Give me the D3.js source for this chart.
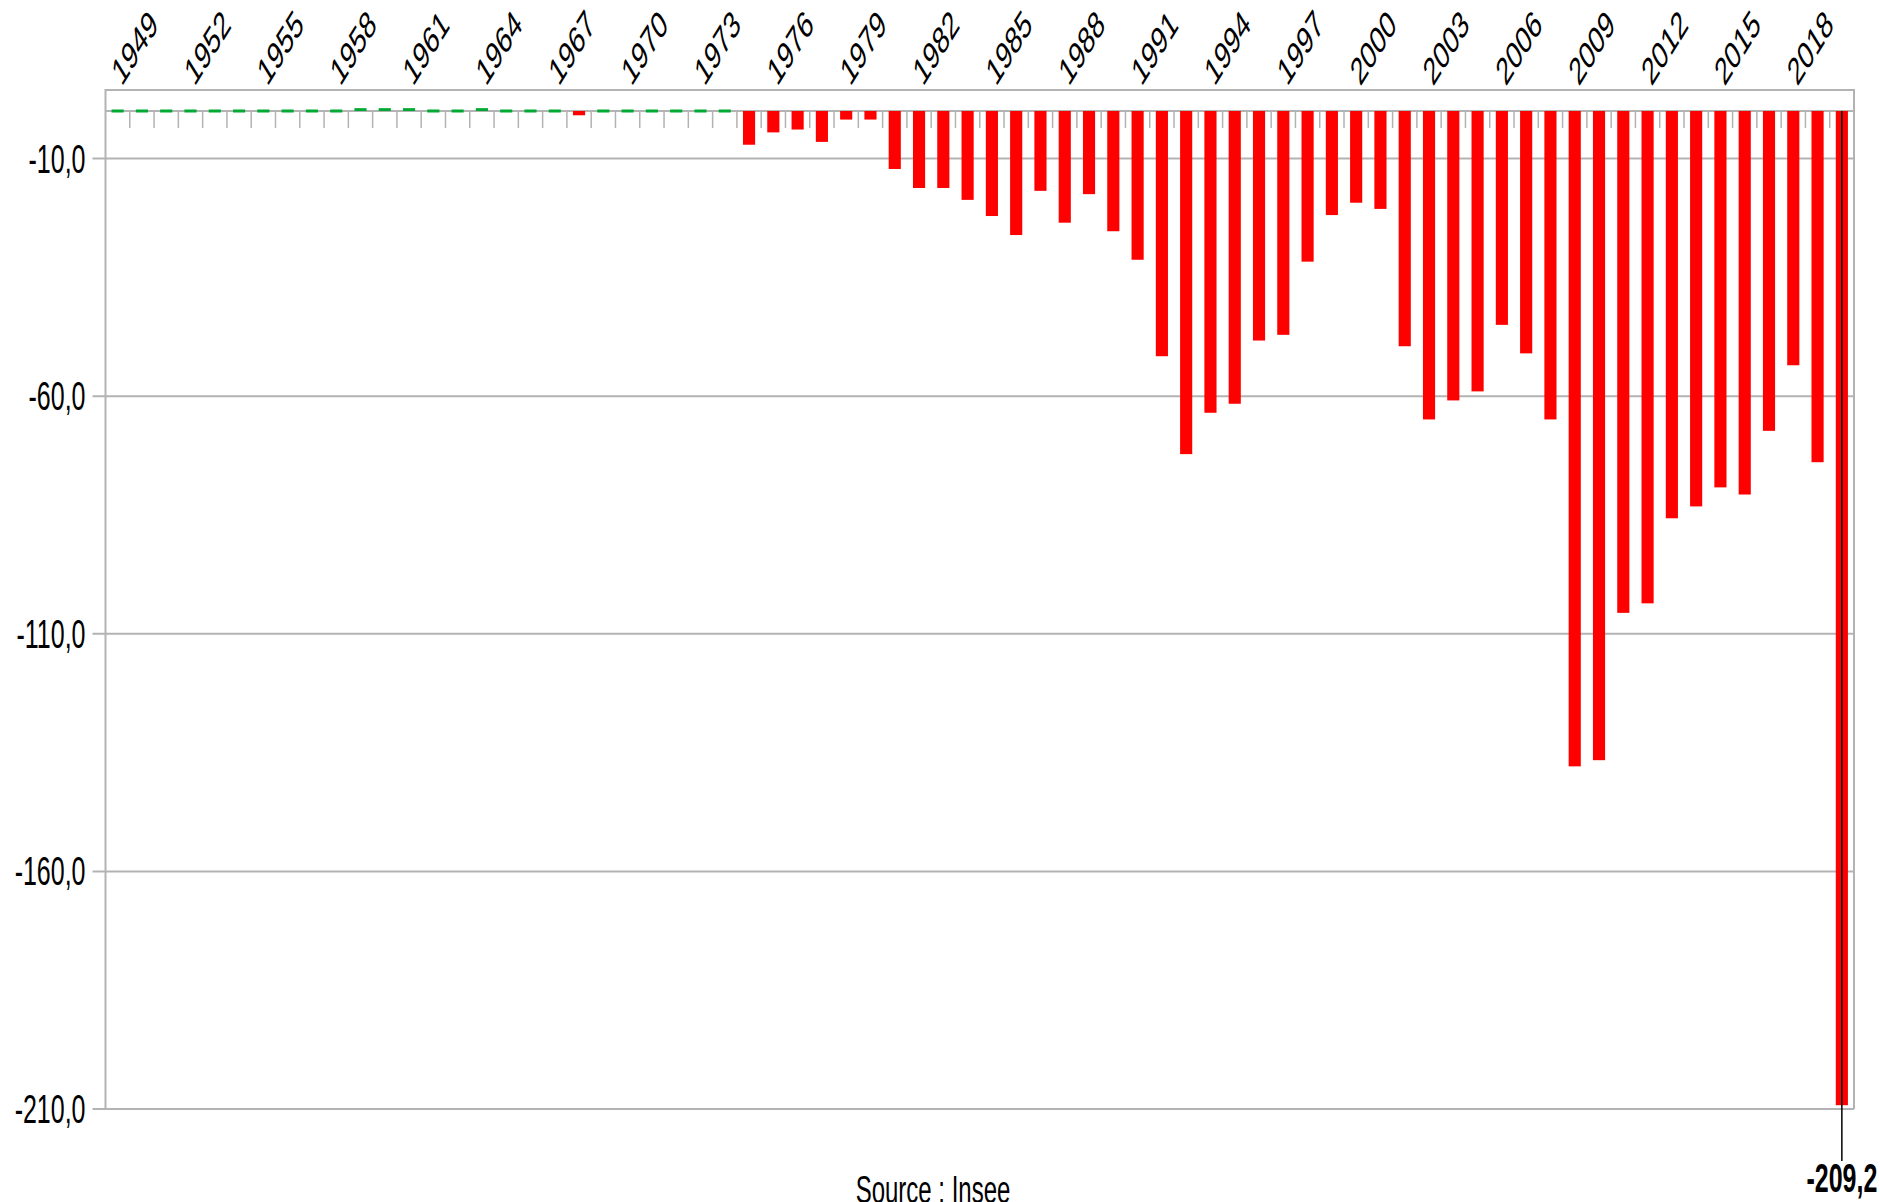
<!DOCTYPE html>
<html>
<head>
<meta charset="utf-8">
<script src="https://cdn.jsdelivr.net/npm/d3@7"></script>
<style>
  html, body { margin: 0; padding: 0; background: #fff; }
  svg text { font-family: "Liberation Sans", Arial, sans-serif; fill: #000; }
</style>
</head>
<body>
<div id="chart"></div>
<script>
// Solde public, Md€ (1949 - 2020)
const years = d3.range(1949, 2021);
const balance = [
    0, 0, 0, 0, 0, 0, 0, 0, 0, 0,
    0.6, 0.6, 0.6, 0, 0, 0.6, 0, 0, 0, -0.9,
    0, 0, 0, 0, 0, 0,
    -7.1, -4.5, -3.9, -6.5, -1.8, -1.8,
    -12.2, -16.2, -16.2, -18.7, -22.1, -26.1, -16.8, -23.5, -17.5, -25.3,
    -31.3, -51.6, -72.2, -63.5, -61.6, -48.3, -47.1, -31.7, -21.9, -19.3,
    -20.6, -49.5, -64.9, -60.9, -59.0, -45.0, -51.0, -64.9, -137.9, -136.6,
    -105.6, -103.6, -85.7, -83.2, -79.2, -80.7, -67.3, -53.5, -73.9, -209.2
];
const yTicks = [-10, -60, -110, -160, -210];
const labelEvery = 3;
const highlightYear = 2020;
const sourceText = 'Source : Insee';

class DeficitChart {
    constructor(_config) {
        this.config = {
            parentElement: _config.parentElement,
            containerWidth: 1880,
            containerHeight: 1202,
            plot: {left: 105.5, right: 1854, top: 90, zero: 111, bottom: 1109},
            stretch: 1.6, // the picture is stretched vertically
            gridColor: '#b3b3b3'
        };
        this.initVis();
    }

    initVis() {
        let vis = this;
        const c = vis.config;

        vis.svg = d3.select(c.parentElement).append('svg')
            .attr('width', c.containerWidth)
            .attr('height', c.containerHeight);

        vis.x = d3.scaleBand()
            .domain(years)
            .range([c.plot.left, c.plot.right])
            .paddingInner(0.5)
            .paddingOuter(0.25);

        // zero sits at c.plot.zero, -210 at c.plot.bottom
        const k = (c.plot.bottom - c.plot.zero) / 210;
        vis.y = d3.scaleLinear()
            .domain([-210, (c.plot.zero - c.plot.top) / k])
            .range([c.plot.bottom, c.plot.top]);

        vis.renderVis();
    }

    renderVis() {
        let vis = this;
        const c = vis.config;
        const step = vis.x.step();
        const y0 = vis.y(0);

        // horizontal grid + outer ticks
        vis.svg.append('g').selectAll('line')
            .data(yTicks)
            .join('line')
            .attr('x1', c.plot.left - 13)
            .attr('x2', c.plot.right)
            .attr('y1', d => vis.y(d))
            .attr('y2', d => vis.y(d))
            .attr('stroke', c.gridColor)
            .attr('stroke-width', 2);

        vis.svg.append('g').selectAll('text')
            .data(yTicks)
            .join('text')
            .attr('transform', d => `translate(${c.plot.left - 20},${vis.y(d)}) scale(1,${c.stretch})`)
            .attr('text-anchor', 'end')
            .attr('dy', '0.35em')
            .style('font-size', '25px')
            .text(d => d3.format('.1f')(d).replace('.', ',').replace('−', '-'));

        // zero line with category ticks
        vis.svg.append('line')
            .attr('x1', c.plot.left).attr('x2', c.plot.right)
            .attr('y1', y0).attr('y2', y0)
            .attr('stroke', c.gridColor)
            .attr('stroke-width', 2);

        vis.svg.append('g').selectAll('line')
            .data(years.slice(1))
            .join('line')
            .attr('x1', d => vis.x(d) - step * 0.25)
            .attr('x2', d => vis.x(d) - step * 0.25)
            .attr('y1', y0)
            .attr('y2', y0 + 17)
            .attr('stroke', c.gridColor)
            .attr('stroke-width', 1.5);

        // bars
        const rows = years.map((yr, i) => ({year: yr, value: balance[i]}));
        vis.svg.append('g').selectAll('rect')
            .data(rows)
            .join('rect')
            .attr('x', d => vis.x(d.year))
            .attr('width', vis.x.bandwidth())
            .attr('y', d => d.value > 0 ? vis.y(d.value) : (d.value === 0 ? y0 - 1.5 : y0))
            .attr('height', d => d.value === 0 ? 3 : Math.abs(vis.y(d.value) - y0))
            .attr('fill', d => d.value < 0 ? '#ff0000' : '#00a933');

        // frame
        vis.svg.append('path')
            .attr('d', `M${c.plot.left},${c.plot.bottom}V${c.plot.top}H${c.plot.right}V${c.plot.bottom}`)
            .attr('fill', 'none')
            .attr('stroke', c.gridColor)
            .attr('stroke-width', 2);

        // year labels on top, rotated
        vis.svg.append('g').selectAll('text')
            .data(years.filter((d, i) => i % labelEvery === 0))
            .join('text')
            .attr('transform', d => {
                const cx = vis.x(d) + vis.x.bandwidth() / 2 + 4;
                return `translate(${cx},${c.plot.top - 3}) scale(1,${c.stretch}) rotate(-45)`;
            })
            .attr('text-anchor', 'start')
            .style('font-size', '24px')
            .text(d => d);

        // callout for the last year
        const last = rows.find(d => d.year === highlightYear);
        const lx = vis.x(last.year) + vis.x.bandwidth() / 2;
        vis.svg.append('line')
            .attr('x1', lx).attr('x2', lx)
            .attr('y1', y0).attr('y2', 1161)
            .attr('stroke', '#000')
            .attr('stroke-width', 1.5);

        vis.svg.append('text')
            .attr('transform', `translate(${lx},1192) scale(1,${c.stretch})`)
            .attr('text-anchor', 'middle')
            .style('font-size', '25px')
            .style('font-weight', 'bold')
            .text(String(last.value).replace('.', ','));

        vis.svg.append('text')
            .attr('transform', `translate(933,1203) scale(1,${c.stretch})`)
            .attr('text-anchor', 'middle')
            .style('font-size', '24px')
            .text(sourceText);
    }
}

new DeficitChart({parentElement: '#chart'});
</script>
</body>
</html>
